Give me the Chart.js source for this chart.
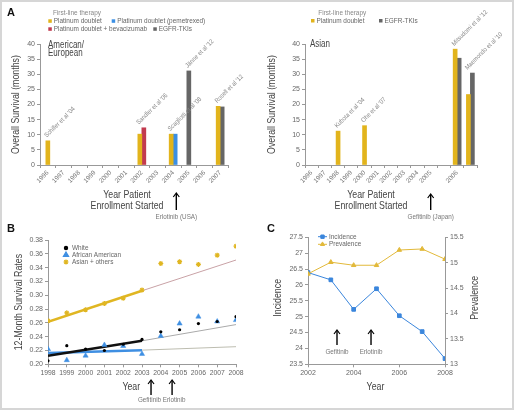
<!DOCTYPE html>
<html>
<head>
<meta charset="utf-8">
<script src="https://cdn.jsdelivr.net/npm/chart.js@4.4.0/dist/chart.umd.min.js"></script>
<style>
  body { margin: 0; background: #fff; }
  #page { position: relative; width: 514px; height: 410px; overflow: hidden; }
  #page canvas { position: absolute; }
  #frame { position: absolute; left: 0; top: 0; width: 514px; height: 410px; box-sizing: border-box;
           border: 2px solid #d6d6d6; pointer-events: none; }
</style>
</head>
<body>
<div id="page">
  <canvas id="a1" width="257" height="222" style="left:0;top:0"></canvas>
  <canvas id="a2" width="257" height="222" style="left:257px;top:0"></canvas>
  <canvas id="b" width="257" height="188" style="left:0;top:222px"></canvas>
  <canvas id="c" width="257" height="188" style="left:257px;top:222px"></canvas>
  <div id="frame"></div>
</div>
<script>
// ---- panel A, American/European trials
const yearsUS = ['1996', '1997', '1998', '1999', '2000', '2001', '2002', '2003', '2004', '2005', '2006', '2007'];
const usPlatinum    = [8, null, null, null, null, null, 10.2, null, 10.2, null, null, 19.4];
const usPemetrexed  = [null, null, null, null, null, null, null, null, 10.2, null, null, null];
const usBevacizumab = [null, null, null, null, null, null, 12.3, null, null, null, null, null];
const usEgfr        = [null, null, null, null, null, null, null, null, null, 31.1, null, 19.2];
const usStudies = ["Schiller et al '04", null, null, null, null, null, "Sandler et al '06", null,
                   "Scagliotti et al '08", "Jänne et al '12", null, "Rosell et al '12"];

// ---- panel A, Asian trials
const yearsAsia = ['1996', '1997', '1998', '1999', '2000', '2001', '2002', '2003', '2004', '2005', '', '2006', ''];
const asiaPlatinum = [null, null, 11.2, null, 13, null, null, null, null, null, null, 38.3, 23.3];
const asiaEgfr     = [null, null, null, null, null, null, null, null, null, null, null, 35.3, 30.4];
const asiaStudies = [null, null, "Kubota et al '04", null, "Ohe et al '07", null, null, null, null, null, null,
                     "Mitsudomi et al '12", "Maemondo et al '10"];

// ---- panel B, 12-month survival rates
const yearsB = [1998, 1999, 2000, 2001, 2002, 2003, 2004, 2005, 2006, 2007, 2008];
const white    = [0.205, 0.227, 0.222, 0.220, 0.229, 0.236, 0.247, 0.250, 0.259, 0.262, 0.269];
const african  = [0.222, 0.206, 0.2125, 0.228, 0.2265, 0.215, 0.241, 0.259, 0.269, 0.262, 0.264];
const asian    = [0.263, 0.2745, 0.279, 0.288, 0.2957, 0.3075, 0.346, 0.3486, 0.3447, 0.358, 0.371];
const trendYears   = [1998, 2003, 2008];
const whiteTrend   = [0.2125, 0.234, 0.2575];
const africanTrend = [0.2165, 0.2205, 0.2255];
const asianTrend   = [0.2615, 0.3065, 0.351];

// ---- panel C, incidence / prevalence
const yearsC = [2002, 2003, 2004, 2005, 2006, 2007, 2008];
const incidence  = [26.39, 26.16, 25.23, 25.88, 25.03, 24.53, 23.68];
const prevalence = [14.78, 15.01, 14.95, 14.95, 15.25, 15.27, 15.07];

const FONT = "'Liberation Sans', Arial, Helvetica, sans-serif";
const YELLOW = '#e2b41c';
const BLUE = '#3b8fe4';
const RED = '#c23b4f';
const GREY = '#666666';

Chart.defaults.font.family = FONT;
Chart.defaults.font.size = 7;
Chart.defaults.color = '#555';
Chart.defaults.animation = false;

function txt(ctx, s, x, y, o) {
  o = o || {};
  ctx.save();
  ctx.translate(x, y);
  if (o.rot) ctx.rotate(o.rot);
  ctx.scale(o.sx || 1, 1);
  ctx.font = (o.weight || '') + ' ' + (o.size || 7) + 'px ' + FONT;
  ctx.fillStyle = o.color || '#555';
  ctx.textAlign = o.align || 'left';
  ctx.textBaseline = o.base || 'middle';
  ctx.fillText(s, 0, 0);
  ctx.restore();
}

function arrow(ctx, x, y1, y2) {
  ctx.save();
  ctx.strokeStyle = '#000';
  ctx.lineWidth = 1.4;
  ctx.beginPath(); ctx.moveTo(x, y2); ctx.lineTo(x, y1 + 1); ctx.stroke();
  ctx.lineWidth = 1.2;
  ctx.beginPath(); ctx.moveTo(x - 3, y1 + 4); ctx.lineTo(x, y1); ctx.lineTo(x + 3, y1 + 4); ctx.stroke();
  ctx.restore();
}

// force scale box sizes so the plot areas land where the reference has them
function fix(w, h) {
  return function (s) {
    if (w != null) s.width = w;
    if (h != null) s.height = h;
    s.paddingLeft = s.paddingRight = s.paddingTop = s.paddingBottom = 0;
  };
}

function studyLabels(chart, studies) {
  const ctx = chart.ctx;
  studies.forEach((s, i) => {
    if (!s) return;
    let left = Infinity, top = Infinity;
    chart.data.datasets.forEach((ds, d) => {
      if (ds.data[i] == null) return;
      const el = chart.getDatasetMeta(d).data[i];
      left = Math.min(left, el.x - el.width / 2);
      top = Math.min(top, el.y);
    });
    txt(ctx, s, left + 1, top - 3, { rot: -Math.PI / 4, size: 6.5, sx: 0.88, color: '#888', base: 'alphabetic' });
  });
}

function legendSquare(ctx, color, x, y, label) {
  ctx.fillStyle = color;
  ctx.fillRect(x, y - 1.7, 3.5, 3.5);
  txt(ctx, label, x + 5.5, y, { size: 7, sx: 0.92, color: '#666' });
}

const axisGrid = { display: true, drawOnChartArea: false, tickLength: 3, color: '#999' };
const axisBorder = { color: '#999' };

function barChart(id, labels, datasets, pad, yWidth, draw) {
  return new Chart(document.getElementById(id), {
    type: 'bar',
    data: { labels: labels, datasets: datasets.map(d => Object.assign({ skipNull: true, barThickness: 4 }, d)) },
    options: {
      responsive: false,
      layout: { padding: pad },
      plugins: { legend: { display: false }, tooltip: { enabled: false } },
      scales: {
        x: {
          grid: axisGrid, border: axisBorder,
          ticks: { font: { size: 6.5 }, color: '#777', maxRotation: 45, minRotation: 45, autoSkip: false, padding: 1 },
          afterFit: fix(null, 57)
        },
        y: {
          min: 0, max: 40,
          grid: axisGrid, border: axisBorder,
          ticks: { stepSize: 5, padding: 2, color: '#666' },
          afterFit: fix(yWidth, null)
        }
      }
    },
    plugins: [{ id: 'overlay', afterDraw: draw }]
  });
}

// ---------- A, left
barChart('a1', yearsUS, [
  { label: 'Platinum doublet', data: usPlatinum, backgroundColor: YELLOW },
  { label: 'Platinum doublet (pemetrexed)', data: usPemetrexed, backgroundColor: BLUE },
  { label: 'Platinum doublet + bevacizumab', data: usBevacizumab, backgroundColor: RED },
  { label: 'EGFR-TKIs', data: usEgfr, backgroundColor: GREY }
], { left: 0, top: 44, right: 29, bottom: 0 }, 40, function (chart) {
  const ctx = chart.ctx, ca = chart.chartArea, x = chart.scales.x;
  txt(ctx, 'A', 7, 13, { size: 11, weight: 'bold', color: '#111' });
  txt(ctx, 'First-line therapy', 53, 13.3, { size: 7, sx: 0.92, color: '#888' });
  legendSquare(ctx, YELLOW, 48.3, 21, 'Platinum doublet');
  legendSquare(ctx, BLUE, 111.7, 21, 'Platinum doublet (pemetrexed)');
  legendSquare(ctx, RED, 48.3, 29, 'Platinum doublet + bevacizumab');
  legendSquare(ctx, GREY, 153.3, 29, 'EGFR-TKIs');
  txt(ctx, 'American/', 48, 45, { size: 10, sx: 0.8, color: '#444' });
  txt(ctx, 'European', 48, 53.7, { size: 10, sx: 0.8, color: '#444' });
  studyLabels(chart, usStudies);
  txt(ctx, 'Overall Survival (months)', 16, (ca.top + ca.bottom) / 2,
      { rot: -Math.PI / 2, size: 11, sx: 0.8, align: 'center', color: '#444' });
  txt(ctx, 'Year Patient', 127, 194.5, { size: 11, sx: 0.8, align: 'center', color: '#444' });
  txt(ctx, 'Enrollment Started', 127, 205.8, { size: 11, sx: 0.8, align: 'center', color: '#444' });
  const ax = x.getPixelForValue(8.2);
  arrow(ctx, ax, 193, 210);
  txt(ctx, 'Erlotinib (USA)', ax, 217, { size: 7, sx: 0.9, align: 'center', color: '#777' });
});

// ---------- A, right
barChart('a2', yearsAsia, [
  { label: 'Platinum doublet', data: asiaPlatinum, backgroundColor: YELLOW },
  { label: 'EGFR-TKIs', data: asiaEgfr, backgroundColor: GREY }
], { left: 0, top: 44, right: 37, bottom: 0 }, 48, function (chart) {
  const ctx = chart.ctx, ca = chart.chartArea, x = chart.scales.x;
  txt(ctx, 'First-line therapy', 61.3, 13.3, { size: 7, sx: 0.92, color: '#888' });
  legendSquare(ctx, YELLOW, 54, 20.7, 'Platinum doublet');
  legendSquare(ctx, GREY, 122, 20.7, 'EGFR-TKIs');
  txt(ctx, 'Asian', 53, 44.5, { size: 10, sx: 0.8, color: '#444' });
  studyLabels(chart, asiaStudies);
  txt(ctx, 'Overall Survival (months)', 15, (ca.top + ca.bottom) / 2,
      { rot: -Math.PI / 2, size: 11, sx: 0.8, align: 'center', color: '#444' });
  txt(ctx, 'Year Patient', 114, 194.5, { size: 11, sx: 0.8, align: 'center', color: '#444' });
  txt(ctx, 'Enrollment Started', 114, 205.8, { size: 11, sx: 0.8, align: 'center', color: '#444' });
  const ax = x.getPixelForValue(9);
  arrow(ctx, ax, 194, 210);
  txt(ctx, 'Gefitinib (Japan)', ax, 217, { size: 7, sx: 0.9, align: 'center', color: '#777' });
});

// ---------- B
const pts = (xs, ys) => xs.map((x, i) => ({ x: x, y: ys[i] }));
const seg = (ys, a, b) => [{ x: trendYears[a], y: ys[a] }, { x: trendYears[b], y: ys[b] }];
const BLUE_B = '#3f8fe2';
const YEL_B = '#e0b622';

new Chart(document.getElementById('b'), {
  type: 'scatter',
  data: {
    datasets: [
      { label: 'White', data: pts(yearsB, white), pointStyle: 'circle', pointRadius: 1.6,
        backgroundColor: '#000', borderColor: '#000', borderWidth: 0 },
      { label: 'African American', data: pts(yearsB, african), pointStyle: 'triangle', pointRadius: 3,
        backgroundColor: BLUE_B, borderColor: BLUE_B, borderWidth: 0.5 },
      { label: 'Asian + others', data: pts(yearsB, asian), pointStyle: 'star', pointRadius: 2.5,
        backgroundColor: YEL_B, borderColor: YEL_B, borderWidth: 1.2 },
      { data: seg(whiteTrend, 0, 1), showLine: true, pointRadius: 0, borderColor: '#111', borderWidth: 2.5 },
      { data: seg(africanTrend, 0, 1), showLine: true, pointRadius: 0, borderColor: BLUE_B, borderWidth: 2.5 },
      { data: seg(asianTrend, 0, 1), showLine: true, pointRadius: 0, borderColor: YEL_B, borderWidth: 2.5 },
      { data: seg(whiteTrend, 1, 2), showLine: true, pointRadius: 0, borderColor: '#aaa', borderWidth: 1 },
      { data: seg(africanTrend, 1, 2), showLine: true, pointRadius: 0, borderColor: '#bdbdb0', borderWidth: 1 },
      { data: seg(asianTrend, 1, 2), showLine: true, pointRadius: 0, borderColor: '#c9a2a6', borderWidth: 1 }
    ]
  },
  options: {
    responsive: false,
    layout: { padding: { left: 0, top: 18, right: 21, bottom: 0 } },
    plugins: { legend: { display: false }, tooltip: { enabled: false } },
    scales: {
      x: {
        type: 'linear', min: 1998, max: 2008,
        grid: axisGrid, border: axisBorder,
        ticks: { stepSize: 1, color: '#666', padding: 2, maxRotation: 0, minRotation: 0, autoSkip: false,
                 font: { size: 6.8 }, callback: v => String(v) },
        afterFit: fix(null, 45.7)
      },
      y: {
        min: 0.2, max: 0.38,
        grid: axisGrid, border: axisBorder,
        ticks: { stepSize: 0.02, color: '#666', padding: 2, callback: v => v.toFixed(2) },
        afterFit: fix(48, null)
      }
    }
  },
  plugins: [{ id: 'overlay', afterDraw(chart) {
    const ctx = chart.ctx, ca = chart.chartArea, x = chart.scales.x;
    txt(ctx, 'B', 7, 6.5, { size: 11, weight: 'bold', color: '#111' });
    const H = Chart.helpers;
    const leg = [['White', 'circle', 1.6, '#000', 26], ['African American', 'triangle', 3, BLUE_B, 33],
                 ['Asian + others', 'star', 2.5, YEL_B, 40]];
    leg.forEach(l => {
      ctx.save();
      ctx.fillStyle = l[3]; ctx.strokeStyle = l[3]; ctx.lineWidth = 1.2;
      H.drawPoint(ctx, { pointStyle: l[1], radius: l[2], rotation: 0, borderWidth: 1.2 }, 66, l[4]);
      ctx.restore();
      txt(ctx, l[0], 72, l[4], { size: 7, sx: 0.92, color: '#666' });
    });
    txt(ctx, '12-Month Survival Rates', 19, (ca.top + ca.bottom) / 2,
        { rot: -Math.PI / 2, size: 11, sx: 0.8, align: 'center', color: '#444' });
    txt(ctx, 'Year', 131.3, 164.7, { size: 11, sx: 0.8, align: 'center', color: '#444' });
    const g = x.getPixelForValue(2003.48), e = x.getPixelForValue(2004.6);
    arrow(ctx, g, 158, 173);
    arrow(ctx, e, 158, 173);
    txt(ctx, 'Gefitinib', g - 1.5, 178.5, { size: 7, sx: 0.9, align: 'center', color: '#777' });
    txt(ctx, 'Erlotinib', e + 2, 178.5, { size: 7, sx: 0.9, align: 'center', color: '#777' });
  } }]
});

// ---------- C
const BLUE_C = '#3b86dc';
const YEL_C = '#e2b93a';
new Chart(document.getElementById('c'), {
  type: 'scatter',
  data: {
    datasets: [
      { label: 'Prevalence', data: pts(yearsC, prevalence), yAxisID: 'y1', showLine: true,
        pointStyle: 'triangle', pointRadius: 2.6, backgroundColor: YEL_C, borderColor: YEL_C, borderWidth: 1 },
      { label: 'Incidence', data: pts(yearsC, incidence), yAxisID: 'y', showLine: true,
        pointStyle: 'rect', pointRadius: 2.6, backgroundColor: BLUE_C, borderColor: BLUE_C, borderWidth: 1 }
    ]
  },
  options: {
    responsive: false,
    layout: { padding: { left: 0, top: 15.3, right: 0, bottom: 0 } },
    plugins: { legend: { display: false }, tooltip: { enabled: false } },
    scales: {
      x: {
        type: 'linear', min: 2002, max: 2008,
        grid: axisGrid, border: axisBorder,
        ticks: { stepSize: 2, color: '#666', padding: 2, maxRotation: 0, callback: v => String(v) },
        afterFit: fix(null, 45.7)
      },
      y: {
        position: 'left', min: 23.5, max: 27.5,
        grid: axisGrid, border: axisBorder,
        ticks: { stepSize: 0.5, color: '#666', padding: 2, callback: v => String(+v.toFixed(1)) },
        afterFit: fix(51, null)
      },
      y1: {
        position: 'right', min: 13, max: 15.5,
        grid: axisGrid, border: axisBorder,
        ticks: { stepSize: 0.5, color: '#666', padding: 2, callback: v => String(+v.toFixed(1)) },
        afterFit: fix(69, null)
      }
    }
  },
  plugins: [{ id: 'overlay', afterDraw(chart) {
    const ctx = chart.ctx, ca = chart.chartArea, x = chart.scales.x;
    const H = Chart.helpers;
    txt(ctx, 'C', 10, 6.5, { size: 11, weight: 'bold', color: '#111' });
    [['Incidence', 'rect', BLUE_C, 14.7], ['Prevalence', 'triangle', YEL_C, 22.3]].forEach(l => {
      ctx.save();
      ctx.strokeStyle = l[2]; ctx.fillStyle = l[2]; ctx.lineWidth = 1;
      ctx.beginPath(); ctx.moveTo(61, l[3]); ctx.lineTo(70, l[3]); ctx.stroke();
      H.drawPoint(ctx, { pointStyle: l[1], radius: 2.4, rotation: 0, borderWidth: 1 }, 65.5, l[3]);
      ctx.restore();
      txt(ctx, l[0], 72, l[3], { size: 7, sx: 0.92, color: '#666' });
    });
    const mid = (ca.top + ca.bottom) / 2 - 3;
    txt(ctx, 'Incidence', 21, mid, { rot: -Math.PI / 2, size: 11, sx: 0.8, align: 'center', color: '#444' });
    txt(ctx, 'Prevalence', 218, mid, { rot: -Math.PI / 2, size: 11, sx: 0.8, align: 'center', color: '#444' });
    txt(ctx, 'Year', 118.5, 164.7, { size: 11, sx: 0.8, align: 'center', color: '#444' });
    const g = x.getPixelForValue(2003.27), e = x.getPixelForValue(2004.76);
    arrow(ctx, g, 108, 123);
    arrow(ctx, e, 108, 123);
    txt(ctx, 'Gefitinib', g, 129.7, { size: 7, sx: 0.9, align: 'center', color: '#777' });
    txt(ctx, 'Erlotinib', e, 129.7, { size: 7, sx: 0.9, align: 'center', color: '#777' });
  } }]
});
</script>
</body>
</html>
